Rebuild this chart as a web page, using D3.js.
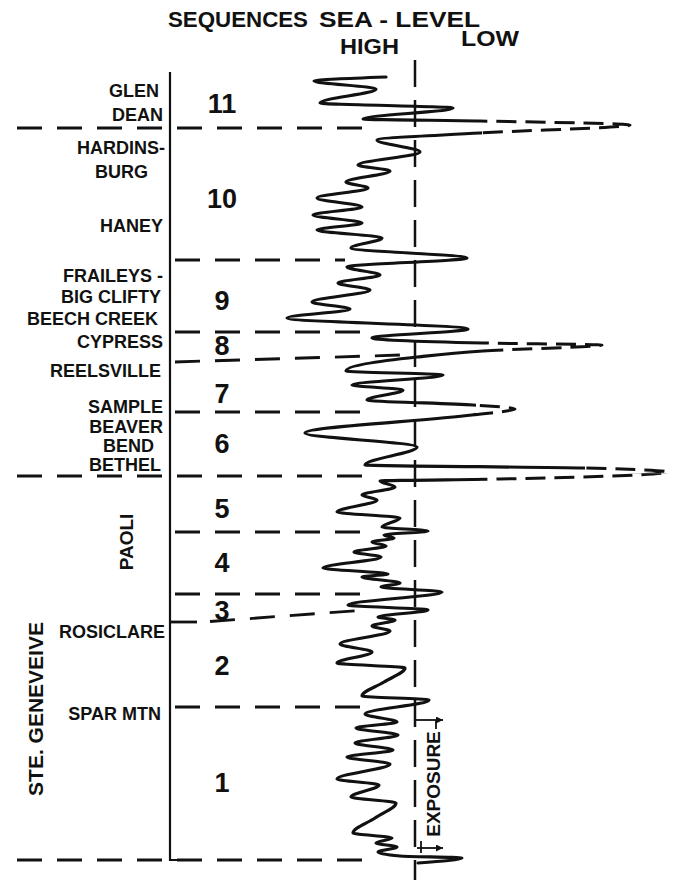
<!DOCTYPE html>
<html>
<head>
<meta charset="utf-8">
<script src="https://cdn.jsdelivr.net/npm/d3@7/dist/d3.min.js"></script>
<style>
  html, body { margin: 0; padding: 0; background: #fff; }
  svg { display: block; }
  text { font-family: "Liberation Sans", Arial, Helvetica, sans-serif; font-weight: bold; fill: #111; }
</style>
</head>
<body>
<svg id="chart" width="679" height="883"></svg>
<script>
// Sea-level curve, [level, depth]: level 0 = datum, + = lower sea level (right)
var seaLevel = [
  [-29, 17], [-101, 21], [-39, 29], [-95, 43], [38, 48], [-52, 59], [65, 61], [215, 65],
  [65, 73], [-38, 80], [5, 92], [-57, 105], [-25, 111], [-69, 122], [-47, 128], [-98, 138],
  [-53, 147], [-102, 155], [-53, 163], [-98, 170], [-33, 178], [-64, 188], [52, 198],
  [-68, 207], [-35, 215], [-77, 223], [-45, 230], [-103, 242], [-65, 249], [-128, 258],
  [53, 269], [-43, 278], [68, 283], [187, 285], [68, 291], [2, 297], [-69, 311], [28, 315],
  [-63, 325], [-12, 330], [-48, 340], [58, 345], [100, 349], [57, 355], [-110, 373], [2, 387],
  [-50, 405], [168, 408], [252, 412], [85, 419], [-35, 421], [-20, 427], [-53, 435], [-38, 440],
  [-78, 452], [-15, 458], [-33, 467], [13, 471], [-31, 475], [-21, 478], [-43, 482], [-29, 486],
  [-61, 492], [-34, 497], [-92, 508], [-27, 514], [-53, 517], [-15, 523], [-34, 527], [27, 532],
  [-67, 545], [13, 550], [-37, 557], [-20, 560], [-43, 566], [-25, 571], [-75, 584], [-43, 592],
  [-78, 603], [-10, 608], [-31, 622], [-53, 636], [14, 640], [-50, 654], [-18, 662], [-59, 668],
  [-17, 675], [-60, 683], [-22, 690], [-68, 697], [-25, 704], [-78, 719], [-36, 725], [-64, 737],
  [-19, 743], [-40, 758], [-62, 773], [-23, 778], [-39, 783], [-18, 787], [-37, 792], [-15, 796],
  [47, 798], [3, 803]
];

// inferred (dashed) stretches of the curve: [depth from, depth to, beyond level]
var inferredStretches = [[57, 76, 67], [280, 295, 70], [342, 358, 61], [404, 413.5, 170], [413.5, 424, 65]];

var sequenceNames = ['11', '10', '9', '8', '7', '6', '5', '4', '3', '2', '1'];
var sequenceDepth = [53, 148, 250, 295, 343, 393, 458, 512, 560, 615, 732];

var formationNames = ['GLEN', 'DEAN', 'HARDINS-', 'BURG', 'HANEY', 'FRAILEYS -', 'BIG CLIFTY',
  'BEECH CREEK', 'CYPRESS', 'REELSVILLE', 'SAMPLE', 'BEAVER', 'BEND', 'BETHEL', 'ROSICLARE', 'SPAR MTN'];
var formationDepth = [37, 61, 94, 118, 172, 222, 243, 265, 288, 317, 353, 373, 392, 411, 578, 660];

var verticalNames = ['PAOLI', 'STE. GENEVEIVE'];
var verticalDepth = [482, 649];

// sequence boundaries: depth at left, depth where they meet the curve, level of that end
var boundaryDepthLeft = [68, 200, 272, 302, 352, 416, 472, 534, 562, 647, 800];
var boundaryDepthRight = [68, 200, 272, 295, 352, 416, 472, 534, 550, 647, 800];
var boundaryEndLevel = [-43, -70, -53, -15, -53, -53, -55, -50, -50, -50, -50];
var boundaryKind = ['full', 'inner', 'inner', 'inner', 'inner', 'full', 'inner', 'inner', 'foot', 'inner', 'full'];

var exposureDepth = [660, 788];

// layout
var W = 679, H = 883;
var AXIS_X = 170, FULL_LEFT = 17, INNER_LEFT = 175, LABEL_RIGHT = 163, NUM_X = 222;
var labelNudge = { 'GLEN': -4, 'BURG': -15, 'BEND': -9, 'BEECH CREEK': -5, 'HARDINS-': 2, 'ROSICLARE': 2, 'BIG CLIFTY': -2, 'REELSVILLE': -2, 'BETHEL': -2, 'SPAR MTN': -2 };
var INK = '#111';

var svg = d3.select('#chart');
var x = d3.scaleLinear().domain([-150, 270]).range([265, 685]);
var y = d3.scaleLinear().domain([0, 820]).range([60, 880]);

var defs = svg.append('defs');

// masks to split the curve into observed (solid) and inferred (dashed) parts
var maskSolid = defs.append('mask').attr('id', 'm-solid')
  .attr('maskUnits', 'userSpaceOnUse').attr('x', 0).attr('y', 0).attr('width', W).attr('height', H);
maskSolid.append('rect').attr('width', W).attr('height', H).attr('fill', '#fff');
var maskDash = defs.append('mask').attr('id', 'm-dash')
  .attr('maskUnits', 'userSpaceOnUse').attr('x', 0).attr('y', 0).attr('width', W).attr('height', H);
maskDash.append('rect').attr('width', W).attr('height', H).attr('fill', '#000');
inferredStretches.forEach(function (s) {
  [[maskSolid, '#000'], [maskDash, '#fff']].forEach(function (m) {
    m[0].append('rect')
      .attr('x', x(s[2])).attr('y', y(s[0]))
      .attr('width', W - x(s[2])).attr('height', y(s[1]) - y(s[0]))
      .attr('fill', m[1]);
  });
});

defs.append('marker').attr('id', 'arrow')
  .attr('viewBox', '0 0 10 10').attr('refX', 10).attr('refY', 5)
  .attr('markerWidth', 8).attr('markerHeight', 7)
  .attr('markerUnits', 'userSpaceOnUse').attr('orient', 'auto')
  .append('path').attr('d', 'M0,0 L10,5 L0,10 Z').attr('fill', INK);

// headers
var headers = [
  { t: 'SEQUENCES', x: 168, y: 27, len: 140 },
  { t: 'SEA - LEVEL', x: 319, y: 27, len: 161 },
  { t: 'HIGH', x: 340, y: 54, len: 59 },
  { t: 'LOW', x: 461, y: 46, len: 58 }
];
svg.append('g').selectAll('text').data(headers).join('text')
  .attr('x', function (d) { return d.x; })
  .attr('y', function (d) { return d.y; })
  .attr('font-size', 21.5)
  .attr('textLength', function (d) { return d.len; })
  .attr('lengthAdjust', 'spacingAndGlyphs')
  .text(function (d) { return d.t; });

// left column axis
svg.append('path')
  .attr('d', 'M' + AXIS_X + ',' + 72 + 'V' + y(800) + 'H' + (AXIS_X + 17))
  .attr('fill', 'none').attr('stroke', INK).attr('stroke-width', 2.2);

// sea-level datum
svg.append('line')
  .attr('x1', x(0)).attr('x2', x(0)).attr('y1', y(0)).attr('y2', y(820))
  .attr('stroke', INK).attr('stroke-width', 2.5).attr('stroke-dasharray', '27,13');

// sequence boundaries
var bGroup = svg.append('g');
boundaryDepthLeft.forEach(function (d, i) {
  var kind = boundaryKind[i];
  var x1 = kind === 'full' ? FULL_LEFT : INNER_LEFT;
  if (kind === 'foot') {
    bGroup.append('line')
      .attr('x1', AXIS_X).attr('x2', AXIS_X + 27).attr('y1', y(d)).attr('y2', y(d))
      .attr('stroke', INK).attr('stroke-width', 2.8);
    x1 = AXIS_X + 40;
  }
  bGroup.append('line')
    .attr('x1', x1).attr('y1', y(d) - (kind === 'foot' ? 0.5 : 0))
    .attr('x2', x(boundaryEndLevel[i])).attr('y2', y(boundaryDepthRight[i]))
    .attr('stroke', INK).attr('stroke-width', 2.8).attr('stroke-dasharray', '25,15');
});

// sea-level curve
var line = d3.line()
  .x(function (d) { return x(d[0]); })
  .y(function (d) { return y(d[1]); })
  .curve(d3.curveMonotoneY);
var pathD = line(seaLevel);
svg.append('path').attr('d', pathD).attr('mask', 'url(#m-solid)')
  .attr('fill', 'none').attr('stroke', INK).attr('stroke-width', 3.2)
  .attr('stroke-linejoin', 'round').attr('stroke-linecap', 'round');
svg.append('path').attr('d', pathD).attr('mask', 'url(#m-dash)')
  .attr('fill', 'none').attr('stroke', INK).attr('stroke-width', 3)
  .attr('stroke-dasharray', '20,9');

// sequence numbers
svg.append('g').selectAll('text').data(sequenceNames).join('text')
  .attr('x', NUM_X)
  .attr('y', function (d, i) { return y(sequenceDepth[i]); })
  .attr('text-anchor', 'middle')
  .attr('font-size', 27)
  .text(function (d) { return d; });

// formation names
svg.append('g').selectAll('text').data(formationNames).join('text')
  .attr('x', function (d) { return LABEL_RIGHT + (labelNudge[d] || 0); })
  .attr('y', function (d, i) { return y(formationDepth[i]); })
  .attr('text-anchor', 'end')
  .attr('font-size', 18)
  .attr('textLength', function (d) { return d.length * 0; })
  .attr('textLength', null)
  .text(function (d) { return d; });

// rotated names
var verticalX = [133, 43];
var verticalSize = [19, 21];
svg.append('g').selectAll('text').data(verticalNames).join('text')
  .attr('transform', function (d, i) {
    return 'translate(' + verticalX[i] + ',' + y(verticalDepth[i]) + ') rotate(-90)';
  })
  .attr('text-anchor', 'middle')
  .attr('font-size', function (d, i) { return verticalSize[i]; })
  .text(function (d) { return d; });

// exposure interval
var ex = svg.append('g');
ex.append('line')
  .attr('x1', x(0)).attr('x2', x(28)).attr('y1', y(exposureDepth[0])).attr('y2', y(exposureDepth[0]))
  .attr('stroke', INK).attr('stroke-width', 1.8).attr('marker-end', 'url(#arrow)');
ex.append('line')
  .attr('x1', x(21)).attr('x2', x(21)).attr('y1', y(exposureDepth[0])).attr('y2', y(exposureDepth[0]) + 9)
  .attr('stroke', INK).attr('stroke-width', 1.8);
ex.append('line')
  .attr('x1', x(2)).attr('x2', x(28)).attr('y1', y(exposureDepth[1])).attr('y2', y(exposureDepth[1]))
  .attr('stroke', INK).attr('stroke-width', 1.8).attr('marker-end', 'url(#arrow)');
ex.append('line')
  .attr('x1', x(6)).attr('x2', x(6)).attr('y1', y(exposureDepth[1]) - 7).attr('y2', y(exposureDepth[1]) + 5)
  .attr('stroke', INK).attr('stroke-width', 1.8);
ex.append('text')
  .attr('transform', 'translate(' + x(25) + ',' + y((exposureDepth[0] + exposureDepth[1]) / 2) + ') rotate(-90)')
  .attr('text-anchor', 'middle')
  .attr('font-size', 19)
  .text('EXPOSURE');
</script>
</body>
</html>
